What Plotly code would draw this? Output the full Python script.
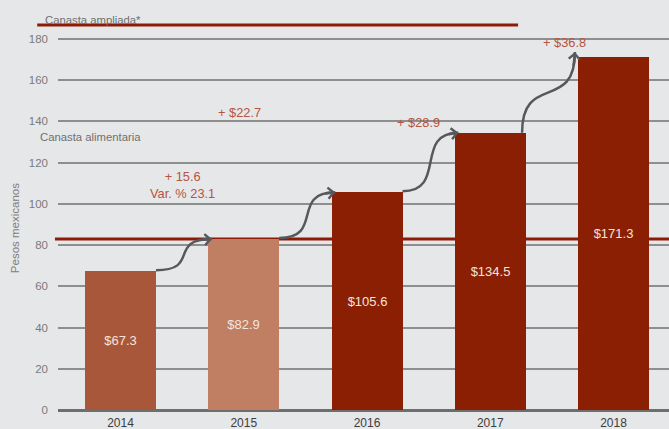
import plotly.graph_objects as go

# ---------------- data ----------------
years = ["2014", "2015", "2016", "2017", "2018"]
costo = [67.3, 82.9, 105.6, 134.5, 171.3]
bar_labels = ["$67.3", "$82.9", "$105.6", "$134.5", "$171.3"]
variacion_labels = ["+ 15.6<br>Var. % 23.1", "+ $22.7", "+ $28.9", "+ $36.8"]
y_ticks = [0, 20, 40, 60, 80, 100, 120, 140, 160, 180]
linea_alimentaria = 82.9
linea_ampliada = 186.8

# ---------------- styling ----------------
FONT = "Liberation Sans, Arial, sans-serif"
BG = "#e6e7e9"
RED = "#8c1c07"
ANN_RED = "#b5543f"
ARROW = "#55595c"
bar_colors = ["#a9573a", "#c07e62", "#8a1f03", "#8a1f03", "#8a1f03"]
BAR_W = 0.576
X_RANGE = [-0.507, 4.45]
Y_RANGE = [0, 198.9]

x_idx = list(range(len(years)))

fig = go.Figure()
fig.add_trace(go.Bar(
    x=x_idx, y=costo, width=[BAR_W] * len(costo),
    marker=dict(color=bar_colors, line=dict(width=0)),
    text=bar_labels, textposition="inside", insidetextanchor="middle",
    textangle=0,
    textfont=dict(color="#f3e4dd", size=13, family=FONT),
    hoverinfo="skip",
))

shapes = []
annotations = []

# reference lines
shapes.append(dict(type="line", xref="paper", yref="y", x0=-0.005, x1=1,
                   y0=linea_alimentaria, y1=linea_alimentaria,
                   line=dict(color=RED, width=3), layer="below"))
shapes.append(dict(type="line", xref="paper", yref="y", x0=-0.034, x1=0.753,
                   y0=linea_ampliada, y1=linea_ampliada,
                   line=dict(color=RED, width=3), layer="below"))

annotations.append(dict(text="Canasta ampliada*", xref="paper", yref="paper",
                        x=-0.024, y=0.952, xanchor="left", yanchor="middle",
                        showarrow=False, font=dict(size=11.3, color="#6f6f6f", family=FONT)))
annotations.append(dict(text="Canasta alimentaria", xref="paper", yref="paper",
                        x=-0.032, y=0.665, xanchor="left", yanchor="middle",
                        showarrow=False, font=dict(size=11.3, color="#6f6f6f", family=FONT)))
annotations.append(dict(text="Pesos mexicanos", xref="paper", yref="paper",
                        x=-0.070, y=0.444, textangle=-90,
                        xanchor="center", yanchor="middle",
                        showarrow=False, font=dict(size=11.5, color="#808080", family=FONT)))

# curved connector arrows between consecutive bars
half = BAR_W / 2


def bez(p0, p1, p2, p3, t):
    u = 1 - t
    return (u**3 * p0[0] + 3 * u * u * t * p1[0] + 3 * u * t * t * p2[0] + t**3 * p3[0],
            u**3 * p0[1] + 3 * u * u * t * p1[1] + 3 * u * t * t * p2[1] + t**3 * p3[1])


for i in range(len(costo) - 1):
    last = (i == len(costo) - 2)
    if not last:
        p0 = (i + half, costo[i] + 0.5)
        p3 = (i + 1 - half + 0.03, costo[i + 1])
        dx = p3[0] - p0[0]
        p1 = (p0[0] + 0.8 * dx, p0[1])
        p2 = (p3[0] - 0.8 * dx, p3[1])
    else:
        p0 = (i + half - 0.03, costo[i])
        p3 = (i + 1 - half - 0.025, costo[i + 1] + 2.4)
        dy = p3[1] - p0[1]
        p1 = (p0[0], p0[1] + 0.75 * dy)
        p2 = (p3[0], p3[1] - 0.75 * dy)
    path = (f"M {p0[0]},{p0[1]} C {p1[0]},{p1[1]} {p2[0]},{p2[1]} {p3[0]},{p3[1]}")
    shapes.append(dict(type="path", xref="x", yref="y", path=path,
                       line=dict(color=ARROW, width=2.5)))
    back = bez(p0, p1, p2, p3, 0.9)
    annotations.append(dict(x=p3[0], y=p3[1], ax=back[0], ay=back[1],
                            xref="x", yref="y", axref="x", ayref="y",
                            text="", showarrow=True, arrowhead=4, arrowsize=0.85,
                            arrowwidth=2.5, arrowcolor=ARROW, standoff=0))

# variation labels
label_pos = [(0.499, 109.2), (0.966, 144.1), (2.414, 139.7), (3.606, 178.5)]
for txt, (lx, ly) in zip(variacion_labels, label_pos):
    annotations.append(dict(text=txt, x=lx, y=ly, xref="x", yref="y",
                            showarrow=False, align="center",
                            font=dict(size=12.8, color=ANN_RED, family=FONT)))

fig.update_layout(
    width=669, height=429,
    margin=dict(l=58, r=0, t=0, b=19, autoexpand=False),
    paper_bgcolor=BG, plot_bgcolor=BG,
    showlegend=False,
    font=dict(family=FONT),
    shapes=shapes, annotations=annotations,
    xaxis=dict(range=X_RANGE, tickvals=x_idx, ticktext=years,
               showgrid=False, zeroline=False, showline=False, ticks="",
               ticklabelstandoff=4,
               tickfont=dict(size=12, color="#3d3d3d", family=FONT),
               automargin=False, fixedrange=True),
    yaxis=dict(range=Y_RANGE, tickvals=y_ticks, showgrid=True,
               gridcolor="#8e8e8e", gridwidth=1.5,
               zeroline=True, zerolinecolor="#6e6e6e", zerolinewidth=2.5,
               showline=False, ticks="", ticklabelstandoff=9,
               tickfont=dict(size=11.5, color="#7a7a7a", family=FONT),
               automargin=False, fixedrange=True),
    bargap=0,
)

fig.write_html("out.html", config={"displayModeBar": False},
               post_script="document.body.style.margin='0';document.body.style.overflow='hidden';")
